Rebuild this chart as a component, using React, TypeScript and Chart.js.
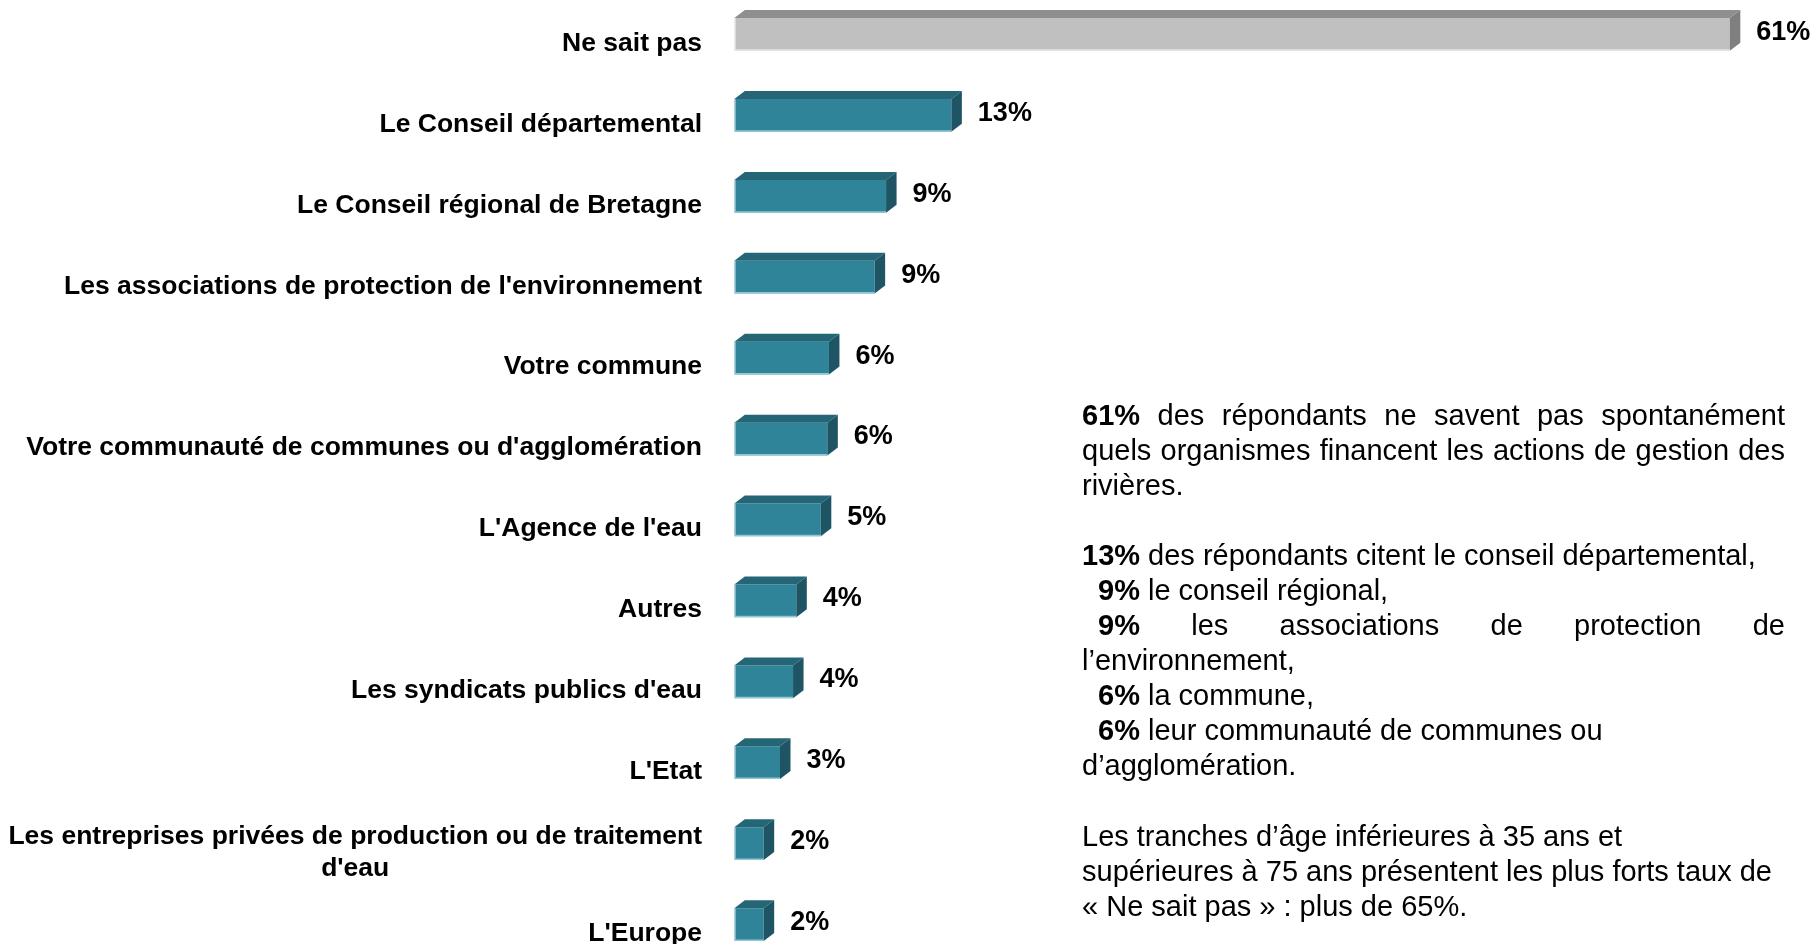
import React, { useEffect, useRef } from "react";
import { Chart, registerables } from "chart.js";

Chart.register(...registerables);

// ---- data ----
const categories: string[][] = [
  ["Ne sait pas"],
  ["Le Conseil départemental"],
  ["Le Conseil régional de Bretagne"],
  ["Les associations de protection de l'environnement"],
  ["Votre commune"],
  ["Votre communauté de communes ou d'agglomération"],
  ["L'Agence de l'eau"],
  ["Autres"],
  ["Les syndicats publics d'eau"],
  ["L'Etat"],
  ["Les entreprises privées de production ou de traitement", "d'eau"],
  ["L'Europe"],
];
const values: number[] = [61, 13.3, 9.3, 8.6, 5.8, 5.7, 5.3, 3.8, 3.6, 2.8, 1.8, 1.8];
const axisMax = 64;

// ---- styles ----
const FONT = "'Liberation Sans', Arial, Helvetica, sans-serif";
const GRAY = { front: "#c0c0c0", top: "#8f8f8f", side: "#7f7f7f", edge: "rgba(255,255,255,0.55)" };
const TEAL = { front: "#2f8499", top: "#256676", side: "#1f5464", edge: "rgba(190,225,235,0.7)" };
const DX = 10.5;
const DY = 8;

const bar3d = {
  id: "bar3d",
  afterDatasetsDraw(chart: any) {
    const ctx = chart.ctx as CanvasRenderingContext2D;
    const meta = chart.getDatasetMeta(0);
    meta.data.forEach((el: any, i: number) => {
      const { x, y, base, height } = el.getProps(["x", "y", "base", "height"], true);
      const top = y - height / 2;
      const bottom = y + height / 2;
      const pal = i === 0 ? GRAY : TEAL;
      ctx.save();
      ctx.fillStyle = pal.top;
      ctx.beginPath();
      ctx.moveTo(base, top);
      ctx.lineTo(base + DX, top - DY);
      ctx.lineTo(x + DX, top - DY);
      ctx.lineTo(x, top);
      ctx.closePath();
      ctx.fill();
      ctx.fillStyle = pal.side;
      ctx.beginPath();
      ctx.moveTo(x, top);
      ctx.lineTo(x + DX, top - DY);
      ctx.lineTo(x + DX, bottom - DY);
      ctx.lineTo(x, bottom);
      ctx.closePath();
      ctx.fill();
      ctx.strokeStyle = pal.edge;
      ctx.lineWidth = 1.5;
      ctx.beginPath();
      ctx.moveTo(base + 0.75, top);
      ctx.lineTo(base + 0.75, bottom - 0.75);
      ctx.lineTo(x, bottom - 0.75);
      ctx.stroke();
      ctx.restore();
    });
  },
  afterDraw(chart: any) {
    const ctx = chart.ctx as CanvasRenderingContext2D;
    const yScale = chart.scales.y;
    const meta = chart.getDatasetMeta(0);
    ctx.save();
    ctx.fillStyle = "#000";
    ctx.textBaseline = "middle";
    // category labels
    ctx.font = `bold 26.5px ${FONT}`;
    const labelRight = 702;
    categories.forEach((lines, i) => {
      const cy = yScale.getPixelForValue(i) + 9;
      if (lines.length === 1) {
        ctx.textAlign = "right";
        ctx.fillText(lines[0], labelRight, cy);
      } else {
        const w = Math.max(...lines.map((l) => ctx.measureText(l).width));
        const cx = labelRight - w / 2;
        const lh = 32;
        const y0 = cy - ((lines.length - 1) * lh) / 2;
        ctx.textAlign = "center";
        lines.forEach((l, k) => ctx.fillText(l, cx, y0 + k * lh));
      }
    });
    // value labels
    ctx.font = `bold 27px ${FONT}`;
    ctx.textAlign = "left";
    meta.data.forEach((el: any, i: number) => {
      const { x, y } = el.getProps(["x", "y"], true);
      ctx.fillText(`${Math.round(values[i])}%`, x + DX + 16, y - 2);
    });
    ctx.restore();
  },
};

const W = 1817;
const H = 971;

export default function App() {
  const ref = useRef<HTMLCanvasElement | null>(null);
  useEffect(() => {
    if (!ref.current) return;
    const chart = new Chart(ref.current, {
      type: "bar",
      data: {
        labels: categories.map((c) => c.join(" ")),
        datasets: [
          {
            data: values,
            backgroundColor: values.map((_, i) => (i === 0 ? GRAY.front : TEAL.front)),
            borderWidth: 0,
            barPercentage: 0.404,
            categoryPercentage: 1,
          },
        ],
      },
      options: {
        indexAxis: "y",
        responsive: false,
        animation: false,
        layout: { padding: { left: 734.3, right: W - (734.3 + axisMax * 16.32), top: 0, bottom: 0 } },
        scales: {
          x: { display: false, min: 0, max: axisMax },
          y: { display: false },
        },
        plugins: { legend: { display: false }, tooltip: { enabled: false } },
      },
      plugins: [bar3d],
    } as any);
    return () => chart.destroy();
  }, []);

  const LH = 35.1;
  const lineStyle: React.CSSProperties = { whiteSpace: "nowrap", height: LH };
  const just: React.CSSProperties = { ...lineStyle, textAlign: "justify", textAlignLast: "justify" as any };
  const ind = 16;

  return (
    <div style={{ position: "fixed", left: 0, top: 0, width: W, height: 944, overflow: "hidden", background: "#fff" }}>
      <canvas
        ref={ref}
        width={W}
        height={H}
        style={{ position: "absolute", left: 0, top: -6, width: W, height: H }}
      />
      <div
        style={{
          position: "absolute",
          left: 1082,
          top: 397.5,
          width: 703,
          fontFamily: FONT,
          fontSize: 29,
          lineHeight: `${LH}px`,
          color: "#000",
        }}
      >
        <div style={just}><b>61%</b> des répondants ne savent pas spontanément</div>
        <div style={just}>quels organismes financent les actions de gestion des</div>
        <div style={lineStyle}>rivières.</div>
        <div style={lineStyle}>{"\u00A0"}</div>
        <div style={lineStyle}><b>13%</b> des répondants citent le conseil départemental,</div>
        <div style={{ ...lineStyle, textIndent: ind }}><b>9%</b> le conseil régional,</div>
        <div style={{ ...just, textIndent: ind }}><b>9%</b> les associations de protection de</div>
        <div style={lineStyle}>l’environnement,</div>
        <div style={{ ...lineStyle, textIndent: ind }}><b>6%</b> la commune,</div>
        <div style={{ ...lineStyle, textIndent: ind }}><b>6%</b> leur communauté de communes ou</div>
        <div style={lineStyle}>d’agglomération.</div>
        <div style={lineStyle}>{"\u00A0"}</div>
        <div style={lineStyle}>Les tranches d’âge inférieures à 35 ans et</div>
        <div style={lineStyle}>supérieures à 75 ans présentent les plus forts taux de</div>
        <div style={lineStyle}>« Ne sait pas » : plus de 65%.</div>
      </div>
    </div>
  );
}
